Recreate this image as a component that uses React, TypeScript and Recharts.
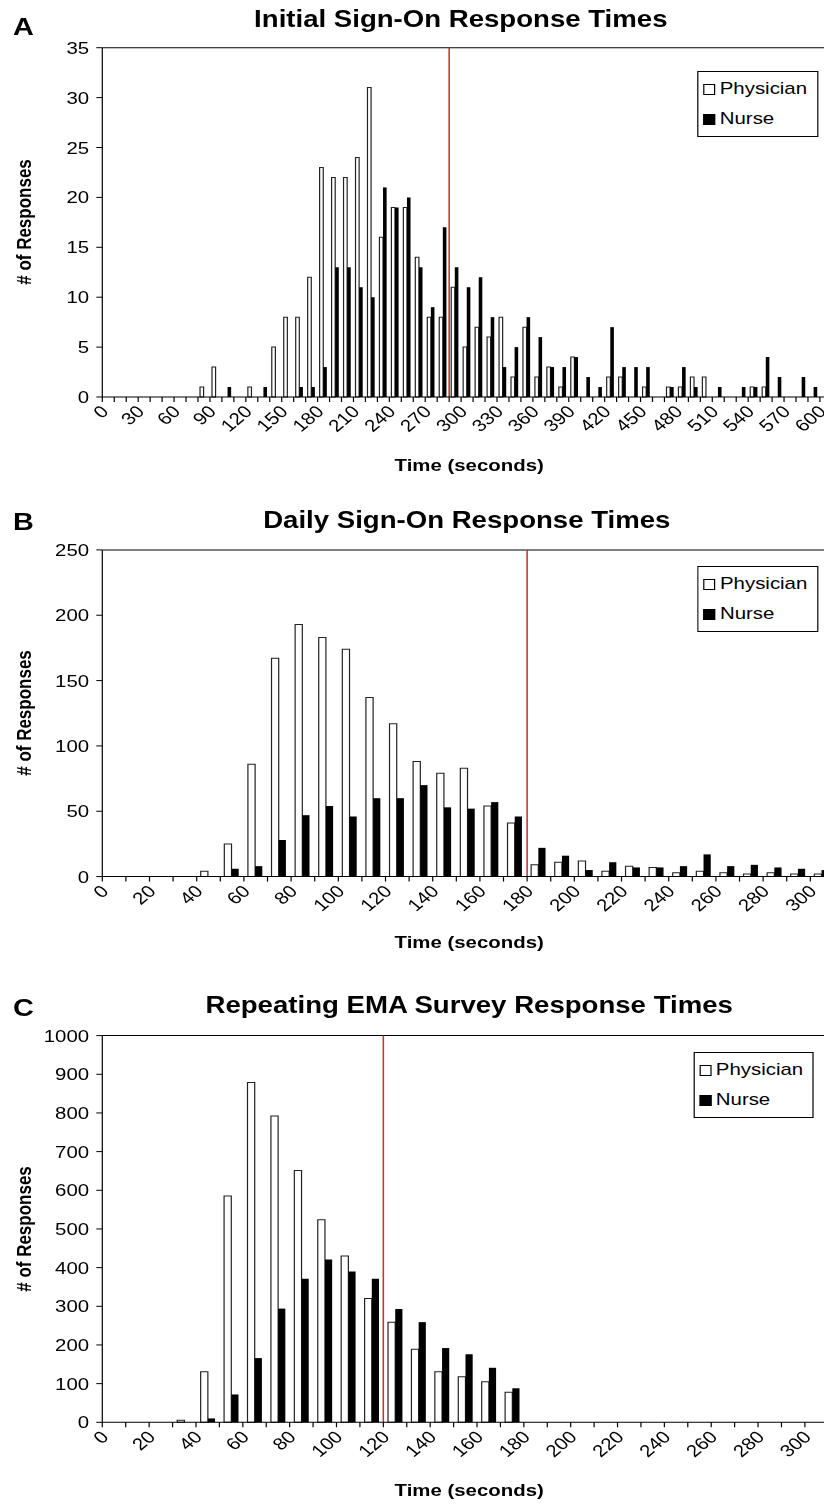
import { BarChart, Bar, XAxis, YAxis, ReferenceLine, Legend } from "recharts";

// the published figure is stretched sideways, so every panel is drawn narrower and scaled in x
const SX = 1.2;
const FONT = '"Liberation Sans", Arial, Helvetica, sans-serif';

// panel A: 10 s bins from 0 to 600 s
const timesA = [
  "0", "10", "20", "30", "40", "50", "60", "70", "80", "90",
  "100", "110", "120", "130", "140", "150", "160", "170", "180", "190",
  "200", "210", "220", "230", "240", "250", "260", "270", "280", "290",
  "300", "310", "320", "330", "340", "350", "360", "370", "380", "390",
  "400", "410", "420", "430", "440", "450", "460", "470", "480", "490",
  "500", "510", "520", "530", "540", "550", "560", "570", "580", "590",
  "600",
];
const physicianA = [
  0, 0, 0, 0, 0, 0, 0, 0, 1, 3,
  0, 0, 1, 0, 5, 8, 8, 12, 23, 22,
  22, 24, 31, 16, 19, 19, 14, 8, 8, 11,
  5, 7, 6, 8, 2, 7, 2, 3, 1, 4,
  0, 0, 2, 2, 0, 1, 0, 1, 1, 2,
  2, 0, 0, 0, 1, 1, 0, 0, 0, 0,
  0,
];
const nurseA = [
  0, 0, 0, 0, 0, 0, 0, 0, 0, 0,
  1, 0, 0, 1, 0, 0, 1, 1, 3, 13,
  13, 11, 10, 21, 19, 20, 13, 9, 17, 13,
  11, 12, 8, 3, 5, 8, 6, 3, 3, 4,
  2, 1, 7, 3, 3, 3, 0, 1, 3, 1,
  0, 1, 0, 1, 1, 4, 2, 0, 2, 1,
  0,
];

// panels B and C: 10 s bins from 0 to 300 s
const timesBC = [
  "0", "10", "20", "30", "40", "50", "60", "70", "80", "90",
  "100", "110", "120", "130", "140", "150", "160", "170", "180", "190",
  "200", "210", "220", "230", "240", "250", "260", "270", "280", "290",
  "300",
];
const physicianB = [
  0, 0, 0, 0, 4, 25, 86, 167, 193, 183,
  174, 137, 117, 88, 79, 83, 54, 41, 9, 11,
  12, 4, 8, 7, 3, 4, 3, 2, 3, 2,
  2,
];
const nurseB = [
  0, 0, 0, 0, 0, 6, 8, 28, 47, 54,
  46, 60, 60, 70, 53, 52, 57, 46, 22, 16,
  5, 11, 7, 7, 8, 17, 8, 9, 7, 6,
  5,
];
const physicianC = [
  0, 0, 0, 5, 131, 585, 879, 792, 651, 524,
  430, 320, 259, 189, 131, 118, 105, 78, 0, 0,
  0, 0, 0, 0, 0, 0, 0, 0, 0, 0,
  0,
];
const nurseC = [
  0, 0, 0, 0, 10, 72, 166, 294, 371, 421,
  390, 371, 293, 259, 192, 176, 141, 88, 0, 0,
  0, 0, 0, 0, 0, 0, 0, 0, 0, 0,
  0,
];

const yTicksA = [0, 5, 10, 15, 20, 25, 30, 35];
const yTicksB = [0, 50, 100, 150, 200, 250];
const yTicksC = [0, 100, 200, 300, 400, 500, 600, 700, 800, 900, 1000];

const rowsOf = (times: string[], phys: number[], nurse: number[]) =>
  times.map((t, i) => ({ t, physician: phys[i], nurse: nurse[i] }));

const AXIS_W = 85.25;

// tick marks sit between the bins, labels hang from the left edge of their bin
function TimeTick(props: any) {
  const { x, y, payload, index, every, bw, count } = props;
  const left = x - bw / 2;
  return (
    <g>
      <line x1={left} x2={left} y1={y} y2={y + 5} stroke="#000" />
      {index === count - 1 && (
        <line x1={x + bw / 2} x2={x + bw / 2} y1={y} y2={y + 5} stroke="#000" />
      )}
      {index % every === 0 && (
        <text
          transform={`translate(${left - 2.5},${y + 7}) rotate(-45)`}
          textAnchor="end"
          dy="0.72em"
          fontSize={17}
          fontFamily={FONT}
          fill="#000"
        >
          {payload.value}
        </text>
      )}
    </g>
  );
}

const ORDER = ["physician", "nurse"];

function LegendBox({ payload }: any) {
  const items = [...(payload || [])].sort(
    (a: any, b: any) => ORDER.indexOf(a.dataKey) - ORDER.indexOf(b.dataKey)
  );
  return (
    <div
      style={{
        border: "1px solid #000",
        background: "#fff",
        padding: "2px 8px 2px 4px",
        fontFamily: FONT,
        fontSize: 17,
        lineHeight: "30px",
        color: "#000",
      }}
    >
      {items.map((p: any) => (
        <div key={p.value} style={{ display: "flex", alignItems: "center" }}>
          <span
            style={{
              display: "inline-block",
              width: 8,
              height: 9,
              border: "1px solid #000",
              background: p.color,
              marginRight: 4,
            }}
          />
          {p.value}
        </div>
      ))}
    </div>
  );
}

interface PanelProps {
  top: number;
  rows: { t: string; physician: number; nurse: number }[];
  plotTop: number;
  plotH: number;
  plotW: number;
  yTicks: number[];
  every: number;
  cutoff: string;
  gap: string;
  legendLeft: number;
  legendTop: number;
}

function Panel({
  top,
  rows,
  plotTop,
  plotH,
  plotW,
  yTicks,
  every,
  cutoff,
  gap,
  legendLeft,
  legendTop,
}: PanelProps) {
  const yMax = yTicks[yTicks.length - 1];
  const bw = plotW / rows.length;
  const height = plotTop + plotH + 90;
  return (
    <div style={{ position: "absolute", left: 0, top }}>
      <BarChart
        width={AXIS_W + plotW}
        height={height}
        data={rows}
        margin={{ top: plotTop, right: 0, left: 0, bottom: 0 }}
        barGap={0}
        barCategoryGap={gap}
      >
        <XAxis
          dataKey="t"
          interval={0}
          height={90}
          tickLine={false}
          tickSize={0}
          tickMargin={0}
          axisLine={{ stroke: "#000" }}
          tick={(p: any) => (
            <TimeTick {...p} every={every} bw={bw} count={rows.length} />
          )}
        />
        <YAxis
          width={AXIS_W}
          domain={[0, yMax]}
          ticks={yTicks}
          interval={0}
          tickSize={5}
          tickMargin={6}
          axisLine={{ stroke: "#000" }}
          tickLine={{ stroke: "#000" }}
          tick={{ fontSize: 17, fill: "#000", fontFamily: FONT }}
        />
        <ReferenceLine y={yMax} stroke="#000" />
        <Legend
          layout="vertical"
          align="center"
          verticalAlign="middle"
          wrapperStyle={{ left: legendLeft, top: legendTop, width: "auto" }}
          content={(p: any) => <LegendBox payload={p.payload} />}
        />
        <Bar
          dataKey="physician"
          name="Physician"
          fill="#fff"
          stroke="#222"
          strokeWidth={1}
          isAnimationActive={false}
        />
        <Bar dataKey="nurse" name="Nurse" fill="#000" isAnimationActive={false} />
        <ReferenceLine
          x={cutoff}
          position="start"
          stroke="#c0392b"
          strokeWidth={1.3}
        />
      </BarChart>
    </div>
  );
}

const titleStyle = {
  fontFamily: FONT,
  fontWeight: 700,
  fill: "#000",
} as const;

export default function App() {
  return (
    <div
      style={{
        position: "absolute",
        left: 0,
        top: 0,
        width: 824,
        height: 1504,
        overflow: "hidden",
        background: "#fff",
      }}
    >
      <div
        style={{
          position: "absolute",
          left: 0,
          top: 0,
          width: 720,
          height: 1504,
          transform: `scaleX(${SX})`,
          transformOrigin: "0 0",
        }}
      >
        <Panel
          top={0}
          rows={rowsOf(timesA, physicianA, nurseA)}
          plotTop={47.7}
          plotH={349.3}
          plotW={608}
          yTicks={yTicksA}
          every={3}
          cutoff="290"
          gap="17%"
          legendLeft={580.8}
          legendTop={71}
        />
        <Panel
          top={500}
          rows={rowsOf(timesBC, physicianB, nurseB)}
          plotTop={49.9}
          plotH={326.7}
          plotW={609.7}
          yTicks={yTicksB}
          every={2}
          cutoff="180"
          gap="17%"
          legendLeft={581}
          legendTop={66}
        />
        <Panel
          top={990}
          rows={rowsOf(timesBC, physicianC, nurseC)}
          plotTop={45.6}
          plotH={386.7}
          plotW={605}
          yTicks={yTicksC}
          every={2}
          cutoff="120"
          gap="20%"
          legendLeft={577.5}
          legendTop={62}
        />
        <svg
          width={720}
          height={1504}
          style={{ position: "absolute", left: 0, top: 0, pointerEvents: "none" }}
        >
          <text x={10.8} y={35} fontSize={24} {...titleStyle}>A</text>
          <text x={384} y={27} fontSize={23} textAnchor="middle" {...titleStyle}>
            Initial Sign-On Response Times
          </text>
          <text x={10.8} y={530} fontSize={24} {...titleStyle}>B</text>
          <text x={389} y={528} fontSize={23} textAnchor="middle" {...titleStyle}>
            Daily Sign-On Response Times
          </text>
          <text x={10.8} y={1016} fontSize={24} {...titleStyle}>C</text>
          <text x={391} y={1013} fontSize={23} textAnchor="middle" {...titleStyle}>
            Repeating EMA Survey Response Times
          </text>

          {[222, 713, 1229].map((cy) => (
            <text
              key={cy}
              transform={`translate(20,${cy}) rotate(-90)`}
              textAnchor="middle"
              dominantBaseline="central"
              fontSize={17}
              {...titleStyle}
            >
              # of Responses
            </text>
          ))}
          {[471, 948, 1496].map((by) => (
            <text key={by} x={391} y={by} textAnchor="middle" fontSize={17} {...titleStyle}>
              Time (seconds)
            </text>
          ))}
        </svg>
      </div>
    </div>
  );
}
